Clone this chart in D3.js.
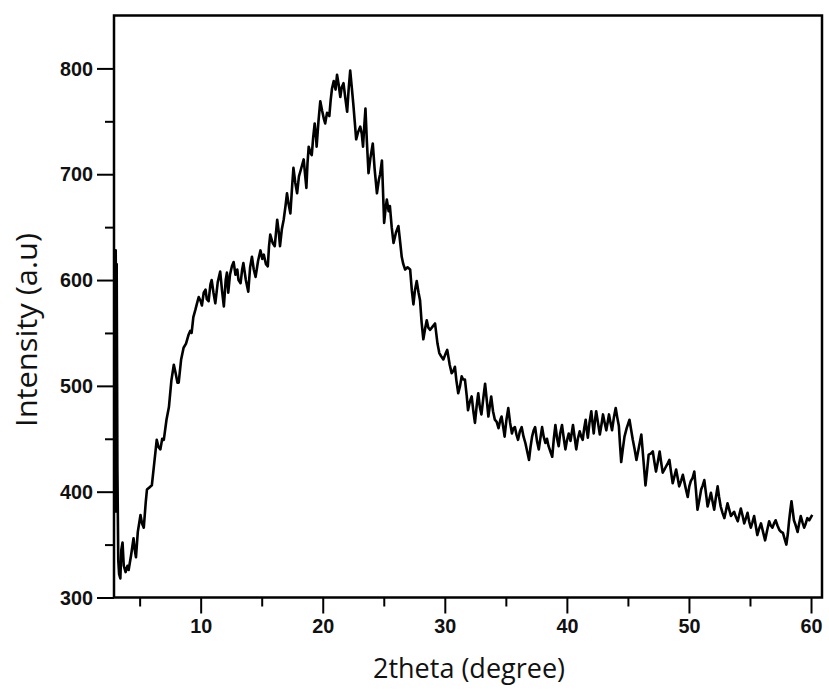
<!DOCTYPE html>
<html>
<head>
<meta charset="utf-8">
<script src="https://cdn.jsdelivr.net/npm/d3@7"></script>
<style>
  html, body { margin: 0; padding: 0; background: #fff; }
  svg { display: block; }
  .tick text { font-family: "Liberation Sans", Arial, sans-serif; font-weight: bold; font-size: 21px; fill: #111; }
  .title { font-family: "Open Sans", "Noto Sans", sans-serif; font-size: 27px; fill: #111; }
</style>
</head>
<body>
<svg id="chart" width="829" height="693"></svg>
<script>
// XRD pattern: [2theta (deg), intensity (a.u.)]
const pattern = [
  [3.0, 380], [3.04, 628], [3.08, 540], [3.12, 615], [3.18, 420], [3.25, 335], [3.32, 322], [3.42, 318],
  [3.5, 345], [3.6, 352], [3.7, 330], [3.85, 324], [4.0, 330], [4.1, 326], [4.3, 340], [4.5, 356],
  [4.6, 345], [4.7, 338], [4.85, 362], [5.07, 378], [5.2, 370], [5.34, 366], [5.5, 390], [5.6, 402],
  [5.8, 404], [6.0, 406], [6.15, 422], [6.3, 438], [6.4, 449], [6.55, 442], [6.7, 440], [6.85, 450],
  [6.98, 449], [7.2, 468], [7.4, 480], [7.6, 505], [7.8, 520], [7.95, 512], [8.1, 503], [8.2, 503],
  [8.4, 525], [8.6, 536], [8.8, 540], [9.0, 548], [9.15, 552], [9.26, 550], [9.4, 565], [9.57, 572],
  [9.7, 578], [9.84, 584], [10.0, 580], [10.1, 576], [10.25, 588], [10.4, 591], [10.5, 582], [10.65, 580],
  [10.8, 596], [10.9, 600], [11.05, 588], [11.2, 578], [11.4, 598], [11.6, 608], [11.75, 590], [11.9, 575],
  [12.05, 600], [12.15, 607], [12.26, 588], [12.4, 605], [12.56, 613], [12.7, 617], [12.85, 605], [13.0, 610],
  [13.1, 600], [13.27, 597], [13.4, 610], [13.5, 616], [13.7, 600], [13.9, 589], [14.05, 612], [14.2, 622],
  [14.35, 610], [14.5, 603], [14.7, 618], [14.9, 628], [15.05, 620], [15.17, 624], [15.35, 615], [15.5, 613],
  [15.6, 632], [15.7, 643], [15.9, 635], [16.07, 632], [16.27, 657], [16.4, 645], [16.5, 632], [16.65, 648],
  [16.8, 657], [16.95, 670], [17.07, 682], [17.2, 672], [17.35, 663], [17.5, 690], [17.6, 706], [17.75, 692],
  [17.9, 682], [18.05, 698], [18.2, 704], [18.44, 714], [18.55, 700], [18.66, 687], [18.75, 710], [18.85, 726],
  [19.0, 720], [19.1, 718], [19.22, 735], [19.34, 748], [19.45, 735], [19.5, 726], [19.65, 750], [19.8, 769],
  [19.95, 760], [20.1, 752], [20.2, 748], [20.35, 758], [20.54, 755], [20.65, 770], [20.76, 781], [20.9, 788],
  [21.05, 780], [21.17, 794], [21.3, 785], [21.44, 773], [21.55, 782], [21.7, 786], [21.85, 772], [22.0, 759],
  [22.12, 780], [22.25, 798], [22.38, 782], [22.5, 767], [22.62, 750], [22.74, 733], [22.9, 740], [23.07, 745],
  [23.2, 738], [23.3, 726], [23.4, 745], [23.5, 762], [23.62, 730], [23.75, 701], [23.9, 715], [24.1, 729],
  [24.25, 705], [24.44, 682], [24.6, 695], [24.7, 700], [24.85, 713], [24.95, 680], [25.03, 654], [25.15, 668],
  [25.25, 676], [25.4, 665], [25.5, 670], [25.65, 650], [25.8, 635], [26.0, 645], [26.2, 651], [26.35, 635],
  [26.47, 622], [26.6, 615], [26.75, 610], [26.95, 612], [27.16, 610], [27.3, 590], [27.43, 577], [27.55, 590],
  [27.7, 599], [27.85, 588], [27.97, 581], [28.1, 560], [28.24, 544], [28.4, 555], [28.52, 562], [28.65, 555],
  [28.8, 553], [29.0, 556], [29.2, 559], [29.4, 540], [29.55, 531], [29.7, 528], [29.88, 525], [30.05, 530],
  [30.2, 534], [30.4, 520], [30.56, 512], [30.7, 514], [30.83, 518], [30.95, 505], [31.1, 493], [31.25, 500],
  [31.38, 509], [31.5, 506], [31.65, 506], [31.8, 490], [31.9, 477], [32.05, 485], [32.2, 490], [32.35, 475],
  [32.47, 465], [32.6, 480], [32.74, 493], [32.87, 480], [33.0, 473], [33.15, 488], [33.3, 502], [33.45, 485],
  [33.57, 471], [33.7, 482], [33.8, 490], [33.95, 476], [34.1, 468], [34.25, 466], [34.4, 460], [34.55, 468],
  [34.65, 471], [34.8, 460], [34.9, 452], [35.05, 468], [35.2, 479], [35.35, 465], [35.5, 455], [35.62, 460],
  [35.74, 461], [35.87, 454], [36.0, 449], [36.15, 457], [36.3, 461], [36.45, 452], [36.6, 446], [36.75, 438],
  [36.9, 430], [37.02, 442], [37.15, 452], [37.28, 458], [37.4, 461], [37.55, 448], [37.7, 440], [37.85, 452],
  [37.97, 461], [38.1, 452], [38.24, 446], [38.37, 450], [38.5, 443], [38.65, 438], [38.8, 433], [38.93, 450],
  [39.06, 463], [39.2, 450], [39.33, 443], [39.45, 455], [39.6, 463], [39.75, 450], [39.88, 440], [40.0, 448],
  [40.15, 455], [40.3, 448], [40.5, 463], [40.65, 450], [40.77, 440], [40.9, 450], [41.05, 457], [41.18, 452],
  [41.3, 449], [41.42, 460], [41.54, 468], [41.63, 458], [41.72, 451], [41.85, 465], [42.0, 476], [42.1, 465],
  [42.2, 455], [42.3, 467], [42.4, 476], [42.55, 465], [42.7, 454], [42.83, 463], [42.96, 473], [43.1, 465],
  [43.23, 458], [43.35, 466], [43.45, 473], [43.58, 465], [43.7, 458], [43.85, 470], [44.0, 479], [44.13, 470],
  [44.26, 462], [44.35, 445], [44.45, 428], [44.58, 440], [44.72, 452], [44.9, 460], [45.13, 468], [45.27, 458],
  [45.4, 449], [45.55, 440], [45.7, 430], [45.9, 442], [46.1, 454], [46.27, 430], [46.44, 406], [46.57, 420],
  [46.7, 435], [46.87, 436], [47.04, 438], [47.17, 428], [47.3, 419], [47.45, 428], [47.6, 438], [47.72, 428],
  [47.85, 418], [48.0, 421], [48.13, 424], [48.27, 427], [48.4, 430], [48.53, 419], [48.67, 408], [48.8, 414],
  [48.95, 421], [49.08, 413], [49.2, 405], [49.35, 410], [49.5, 416], [49.7, 405], [49.9, 395], [50.03, 405],
  [50.15, 410], [50.3, 413], [50.44, 419], [50.57, 402], [50.7, 383], [50.85, 392], [51.0, 402], [51.13, 406],
  [51.26, 411], [51.4, 398], [51.53, 386], [51.66, 392], [51.8, 399], [51.93, 391], [52.07, 383], [52.2, 394],
  [52.35, 405], [52.47, 395], [52.6, 386], [52.75, 380], [52.9, 375], [53.03, 382], [53.16, 389], [53.3, 383],
  [53.44, 377], [53.57, 379], [53.7, 381], [53.85, 376], [54.0, 372], [54.12, 378], [54.25, 384], [54.4, 377],
  [54.53, 370], [54.67, 375], [54.8, 380], [54.93, 372], [55.07, 366], [55.2, 371], [55.34, 377], [55.47, 368],
  [55.6, 359], [55.75, 365], [55.9, 370], [56.07, 362], [56.24, 354], [56.4, 363], [56.57, 372], [56.7, 368],
  [56.84, 366], [56.97, 370], [57.1, 373], [57.25, 368], [57.4, 364], [57.55, 362], [57.7, 361], [57.85, 355],
  [57.98, 350], [58.1, 360], [58.2, 372], [58.3, 382], [58.4, 391], [58.5, 382], [58.6, 373], [58.75, 368],
  [58.9, 362], [59.03, 370], [59.16, 377], [59.3, 371], [59.44, 366], [59.57, 370], [59.7, 375], [59.85, 373],
  [60.0, 376], [60.1, 378]
];

// Axis ticks
const xMajorTicks = [10, 20, 30, 40, 50, 60];
const xMinorTicks = [5, 15, 25, 35, 45, 55];
const yMajorTicks = [300, 400, 500, 600, 700, 800];
const yMinorTicks = [350, 450, 550, 650, 750];

const xTitle = "2theta (degree)";
const yTitle = "Intensity (a.u)";

const svg = d3.select("#chart");
const plot = { left: 114, right: 822, top: 15.5, bottom: 597.5 };

const x = d3.scaleLinear().domain([2.9, 60.9]).range([plot.left, plot.right]);
const y = d3.scaleLinear().domain([300, 850]).range([plot.bottom, plot.top]);

svg.append("rect").attr("width", 829).attr("height", 693).attr("fill", "#fff");

// Data trace
const line = d3.line().x(d => x(d[0])).y(d => y(d[1]));
svg.append("path")
  .datum(pattern)
  .attr("fill", "none")
  .attr("stroke", "#000")
  .attr("stroke-width", 2.6)
  .attr("stroke-linejoin", "round")
  .attr("d", line);

// Axes: condensed bold tick labels
function styleAxis(g) {
  g.select(".domain").remove();
  g.selectAll(".tick line").attr("stroke", "#000").attr("stroke-width", 2);
  g.selectAll(".tick text")
    .attr("textLength", function () { return this.textContent.length * 11; })
    .attr("lengthAdjust", "spacingAndGlyphs");
}

svg.append("g")
  .attr("transform", `translate(0,${plot.bottom})`)
  .call(d3.axisBottom(x).tickValues(xMinorTicks).tickSize(9).tickFormat(""))
  .call(styleAxis);
svg.append("g")
  .attr("transform", `translate(0,${plot.bottom})`)
  .call(d3.axisBottom(x).tickValues(xMajorTicks).tickSize(16).tickPadding(5).tickFormat(d3.format("d")))
  .call(styleAxis);

svg.append("g")
  .attr("transform", `translate(${plot.left},0)`)
  .call(d3.axisLeft(y).tickValues(yMinorTicks).tickSize(9).tickFormat(""))
  .call(styleAxis);
svg.append("g")
  .attr("transform", `translate(${plot.left},0)`)
  .call(d3.axisLeft(y).tickValues(yMajorTicks).tickSize(17).tickPadding(4).tickFormat(d3.format("d")))
  .call(styleAxis);

// Frame
svg.append("rect")
  .attr("x", plot.left).attr("y", plot.top)
  .attr("width", plot.right - plot.left).attr("height", plot.bottom - plot.top)
  .attr("fill", "none").attr("stroke", "#000").attr("stroke-width", 2.5);

// Titles
svg.append("text").attr("class", "title")
  .attr("x", 469).attr("y", 678).attr("text-anchor", "middle")
  .attr("textLength", 192).attr("lengthAdjust", "spacingAndGlyphs")
  .text(xTitle);
svg.append("text").attr("class", "title")
  .attr("transform", "translate(37,330) rotate(-90)")
  .attr("text-anchor", "middle")
  .style("font-size", "29px")
  .attr("textLength", 194).attr("lengthAdjust", "spacingAndGlyphs")
  .text(yTitle);
</script>
</body>
</html>
